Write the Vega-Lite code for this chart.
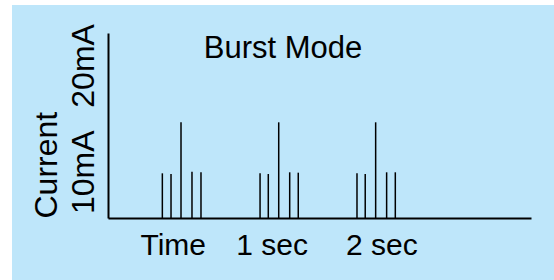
{
  "$schema": "https://vega.github.io/schema/vega-lite/v6.json",
  "width": 542,
  "height": 275,
  "autosize": {"type": "none"},
  "padding": {"left": 12, "top": 5, "right": 0, "bottom": 0},
  "background": "white",
  "config": {"view": {"fill": "#bee6fa", "stroke": null}, "font": "Liberation Sans"},
  "title": {"text": "Burst Mode", "anchor": "middle", "frame": "group", "fontSize": 31, "fontWeight": "normal", "color": "#000", "baseline": "alphabetic", "offset": -84, "font": "Liberation Sans"},
  "data": {"values": [
    {"t": 0.005, "mA": 9.66},
    {"t": 0.084, "mA": 9.51},
    {"t": 0.175, "mA": 20.69},
    {"t": 0.275, "mA": 10.01},
    {"t": 0.357, "mA": 9.88},
    {"t": 0.895, "mA": 9.66},
    {"t": 0.970, "mA": 9.51},
    {"t": 1.065, "mA": 20.69},
    {"t": 1.165, "mA": 9.88},
    {"t": 1.243, "mA": 9.8},
    {"t": 1.778, "mA": 9.66},
    {"t": 1.853, "mA": 9.51},
    {"t": 1.948, "mA": 20.69},
    {"t": 2.048, "mA": 9.88},
    {"t": 2.127, "mA": 9.88}
  ]},
  "mark": {"type": "rule", "strokeWidth": 1.5, "color": "#000"},
  "encoding": {
    "x": {
      "field": "t", "type": "quantitative",
      "scale": {"domain": [-0.49, 3.363], "range": [96, 519], "nice": false, "zero": false},
      "axis": {
        "title": null, "values": [0.1, 1, 2],
        "labelExpr": "datum.value < 0.5 ? 'Time' : datum.value + ' sec'",
        "ticks": false, "grid": false, "domainColor": "#000", "domainWidth": 2,
        "labelFontSize": 30, "labelColor": "#000", "labelPadding": 12,
        "labelFlush": false, "labelOverlap": false, "labelFont": "Liberation Sans",
        "offset": -62
      }
    },
    "y": {
      "field": "mA", "type": "quantitative",
      "scale": {"domain": [0, 40], "range": [213, 28], "nice": false, "zero": false},
      "axis": {
        "title": "Current", "values": [10, 33],
        "labelExpr": "datum.value < 20 ? '10mA' : '20mA'",
        "labelAngle": -90, "labelAlign": "center", "labelBaseline": "alphabetic",
        "labelPadding": 15, "ticks": false, "grid": false,
        "domainColor": "#000", "domainWidth": 2,
        "labelFontSize": 32, "labelColor": "#000", "labelFont": "Liberation Sans",
        "labelFlush": false, "labelOverlap": false,
        "titleFontSize": 32, "titleFontWeight": "normal", "titleColor": "#000", "titleFont": "Liberation Sans",
        "titleAnchor": "start", "titlePadding": 4,
        "offset": -96
      }
    },
    "y2": {"datum": 0}
  }
}
